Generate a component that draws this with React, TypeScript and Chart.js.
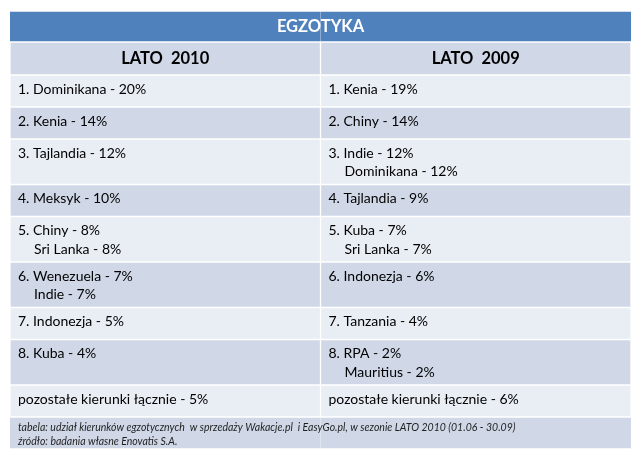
import { useEffect, useRef } from 'react';
import { Chart, registerables } from 'chart.js';

Chart.register(...registerables);

// ---- data ----
const columns = ['LATO 2010', 'LATO 2009'];
const titleText = 'EGZOTYKA';
const headerLabels = ['LATO  2010', 'LATO  2009'];
const lato2010: string[][] = [
  ['1. Dominikana - 20%'],
  ['2. Kenia - 14%'],
  ['3. Tajlandia - 12%'],
  ['4. Meksyk - 10%'],
  ['5. Chiny - 8%', 'Sri Lanka - 8%'],
  ['6. Wenezuela - 7%', 'Indie - 7%'],
  ['7. Indonezja - 5%'],
  ['8. Kuba - 4%'],
  ['pozostałe kierunki łącznie - 5%'],
];
const lato2009: string[][] = [
  ['1. Kenia - 19%'],
  ['2. Chiny - 14%'],
  ['3. Indie - 12%', 'Dominikana - 12%'],
  ['4. Tajlandia - 9%'],
  ['5. Kuba - 7%', 'Sri Lanka - 7%'],
  ['6. Indonezja - 6%'],
  ['7. Tanzania - 4%'],
  ['8. RPA - 2%', 'Mauritius - 2%'],
  ['pozostałe kierunki łącznie - 6%'],
];
const footnotes = [
  'tabela: udział kierunków egzotycznych  w sprzedaży Wakacje.pl  i EasyGo.pl, w sezonie LATO 2010 (01.06 - 30.09)',
  'źródło: badania własne Enovatis S.A.',
];

// ---- styles ----
const TITLE_H = 31;
const HEADER_H = 33;
const ROW_H = 32;
const ROW_LINE_STEP = 13.5;
const FOOT_H = 32;
const C_TITLE = '#4F81BD';
const C_DARK = '#D0D8E8';
const C_LIGHT = '#E9EDF4';
const FONT = 'Lato, "Noto Sans", sans-serif';

type Band = { kind: 'title' | 'header' | 'row' | 'foot'; top: number; bottom: number; color: string; idx: number };

function buildBands(): { bands: Band[]; total: number } {
  const bands: Band[] = [];
  let y = 0;
  const push = (kind: Band['kind'], h: number, color: string, idx: number) => {
    bands.push({ kind, top: y, bottom: y + h, color, idx });
    y += h;
  };
  push('title', TITLE_H, C_TITLE, -1);
  push('header', HEADER_H, C_DARK, -1);
  lato2010.forEach((l, i) => {
    const lines = Math.max(l.length, lato2009[i].length);
    push('row', ROW_H + ROW_LINE_STEP * (lines - 1), i % 2 === 0 ? C_LIGHT : C_DARK, i);
  });
  push('foot', FOOT_H, C_DARK, -1);
  return { bands, total: y };
}

export default function App() {
  const ref = useRef<HTMLCanvasElement | null>(null);
  useEffect(() => {
    if (!ref.current) return;
    const { bands, total } = buildBands();
    const datasets = bands.map((b) => {
      const spanning = b.kind === 'title' || b.kind === 'foot';
      return {
        label: b.kind + b.idx,
        data: columns.map(() => [b.top, b.bottom] as [number, number]),
        backgroundColor: b.color,
        borderColor: '#FFFFFF',
        borderWidth: spanning
          ? { top: 1, bottom: 1, left: 0, right: 0 }
          : { top: 1, bottom: 1, left: 1, right: 1 },
        borderSkipped: false as const,
        grouped: false,
        categoryPercentage: 1,
        barPercentage: 1,
      };
    });

    const textPlugin = {
      id: 'cellText',
      afterDatasetsDraw(chart: any) {
        const ctx = chart.ctx as CanvasRenderingContext2D;
        ctx.save();
        bands.forEach((b, d) => {
          const meta = chart.getDatasetMeta(d);
          const els = meta.data as any[];
          const rect = (i: number) => {
            const e = els[i];
            return {
              left: e.x - e.width / 2,
              right: e.x + e.width / 2,
              top: Math.min(e.y, e.base),
              bottom: Math.max(e.y, e.base),
              cx: e.x,
            };
          };
          if (b.kind === 'title') {
            const r0 = rect(0);
            const r1 = rect(1);
            ctx.font = `bold 16.5px ${FONT}`;
            ctx.fillStyle = '#FFFFFF';
            ctx.textAlign = 'center';
            ctx.textBaseline = 'alphabetic';
            ctx.fillText(titleText, (r0.left + r1.right) / 2, r0.top + 21);
          } else if (b.kind === 'header') {
            ctx.font = `bold 16.5px ${FONT}`;
            ctx.fillStyle = '#000000';
            ctx.textAlign = 'center';
            ctx.textBaseline = 'alphabetic';
            headerLabels.forEach((h, i) => {
              const r = rect(i);
              ctx.fillText(h, r.cx, r.top + 22);
            });
          } else if (b.kind === 'row') {
            ctx.font = `14px ${FONT}`;
            ctx.fillStyle = '#000000';
            ctx.textAlign = 'left';
            ctx.textBaseline = 'alphabetic';
            [lato2010, lato2009].forEach((col, i) => {
              const r = rect(i);
              const lines = col[b.idx];
              const m = lines[0].match(/^\d+\.\s/);
              const indent = m ? ctx.measureText(m[0]).width + 1 : 0;
              lines.forEach((t, k) => {
                ctx.fillText(t, r.left + 8 + (k > 0 ? indent : 0), r.top + 18.5 + k * 18.5);
              });
            });
          } else if (b.kind === 'foot') {
            const r = rect(0);
            ctx.font = `italic 10.5px ${FONT}`;
            ctx.fillStyle = '#1F1F1F';
            ctx.textAlign = 'left';
            ctx.textBaseline = 'alphabetic';
            footnotes.forEach((t, k) => {
              ctx.fillText(t, r.left + 8, r.top + 14 + k * 14);
            });
          }
        });
        ctx.restore();
      },
    };

    const chart = new Chart(ref.current, {
      type: 'bar',
      data: { labels: columns, datasets: datasets as any },
      options: {
        responsive: false,
        animation: false,
        layout: { padding: { left: 10, right: 9, top: 11, bottom: 461 - 11 - total } },
        plugins: { legend: { display: false }, tooltip: { enabled: false }, title: { display: false } },
        scales: {
          x: { type: 'category', display: false, offset: true, grid: { display: false } },
          y: { type: 'linear', display: false, min: 0, max: total, reverse: true, grid: { display: false } },
        },
      },
      plugins: [textPlugin],
    });
    return () => chart.destroy();
  }, []);

  return (
    <div style={{ position: 'fixed', left: 0, top: 0, width: 640, height: 461, background: '#FFFFFF' }}>
      <canvas ref={ref} width={640} height={461} style={{ display: 'block', width: 640, height: 461 }} />
    </div>
  );
}
